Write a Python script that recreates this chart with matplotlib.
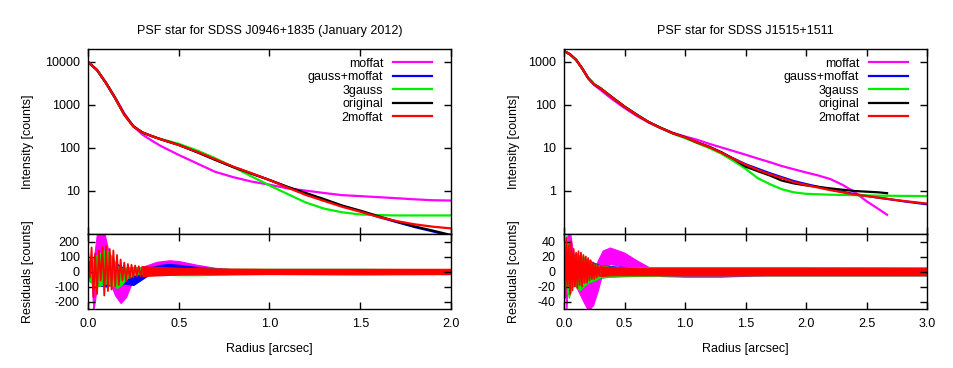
import matplotlib
matplotlib.use('Agg')
import matplotlib.pyplot as plt
import numpy as np

plt.rcParams['font.family'] = ['Liberation Sans', 'DejaVu Sans']
plt.rcParams['font.size'] = 9
plt.rcParams['axes.unicode_minus'] = False

# ---- left panel: SDSS J0946+1835 ----
r_left = [0, 0.05, 0.1, 0.15, 0.2, 0.25, 0.3, 0.35, 0.4, 0.5, 0.6, 0.7, 0.8, 0.9,
          1.0, 1.1, 1.2, 1.3, 1.4, 1.5, 1.6, 1.7, 1.8, 1.9, 2.0]
moffat_l = [10000, 6500, 3300, 1500, 640, 320, 205, 150, 112, 69, 44, 28, 21, 16.6,
            14, 11.5, 10.2, 9.0, 8.0, 7.6, 7.2, 6.8, 6.4, 6.1, 6.0]
gmoffat_l = [10000, 6500, 3200, 1440, 600, 320, 230, 190, 160, 118, 81, 54, 36, 25.5,
             18, 12.3, 8.8, 6.3, 4.5, 3.4, 2.5, 1.9, 1.45, 1.15, 0.9]
gauss3_l = [10000, 6500, 3200, 1440, 600, 320, 225, 190, 162, 125, 88, 58, 36, 22,
            13.5, 8.5, 5.4, 3.9, 3.2, 2.85, 2.75, 2.7, 2.7, 2.7, 2.7]
orig_l = [10000, 6500, 3200, 1440, 600, 320, 230, 190, 160, 118, 80, 53, 36, 25.5,
          18, 12.5, 9.0, 6.5, 4.6, 3.5, 2.6, 1.95, 1.5, 1.2, 0.95]
moffat2_l = [10000, 6500, 3200, 1440, 590, 315, 230, 190, 160, 117, 82, 55, 37, 26,
             18, 12, 8.1, 5.9, 4.3, 3.3, 2.5, 2.0, 1.68, 1.48, 1.35]
yticks_l = [10, 100, 1000, 10000]

# residual envelopes (radius, upper, lower)
res_l = {
    'moffat': ([0.0, 0.02, 0.03, 0.05, 0.07, 0.09, 0.11, 0.13, 0.15, 0.18, 0.21, 0.24, 0.28,
                0.32, 0.38, 0.45, 0.5, 0.6, 0.7, 0.8, 1.0, 2.0],
               [0, 20, 60, 260, 260, 260, 150, 40, -30, -40, -30, 0, 20, 40, 65, 75, 70, 45,
                25, 15, 12, 12],
               [0, -60, -260, -100, 0, 40, -20, -100, -160, -210, -170, -80, -20, 10, 25, 30,
                25, 10, 0, -10, -12, -12]),
    'gauss+moffat': ([0.0, 0.05, 0.1, 0.15, 0.2, 0.25, 0.3, 0.35, 0.4, 0.45, 0.5, 0.6, 0.7,
                      0.8, 1.0, 2.0],
                     [50, 100, 110, 60, 20, 0, 10, 30, 45, 50, 45, 30, 20, 15, 15, 15],
                     [-50, -90, -100, -80, -80, -90, -50, -10, 10, 15, 10, 0, -10, -12, -15, -15]),
    '3gauss': ([0.0, 0.05, 0.1, 0.13, 0.16, 0.19, 0.22, 0.26, 0.3, 0.4, 0.5, 0.6, 0.8, 1.0,
                1.5, 2.0],
               [60, 110, 150, 100, 40, 20, 30, 30, 30, 25, 20, 20, 18, 18, 18, 15],
               [-60, -100, -80, -90, -110, -80, -40, -20, -15, -20, -25, -25, -20, -18, -20, -15]),
    '2moffat': ([0.3, 0.4, 0.5, 0.7, 1.0, 1.5, 2.0],
                [35, 30, 25, 20, 18, 18, 18],
                [-30, -25, -20, -18, -16, -18, -18]),
}
# inner oscillations of the 2moffat residual, r = 0.00 ... 0.30
spike_r_l = [0.00, 0.01, 0.02, 0.03, 0.04, 0.05, 0.06, 0.07, 0.08, 0.09, 0.10, 0.11, 0.12,
             0.13, 0.14, 0.15, 0.16, 0.17, 0.18, 0.19, 0.20, 0.21, 0.22, 0.23, 0.24, 0.25,
             0.26, 0.27, 0.28, 0.29, 0.30]
spike_red_l = [150, -40, 160, -170, 120, -150, 140, -60, 165, -160, 170, -130, 150, -120,
               140, -100, 110, -90, 80, -60, 60, -65, 50, -45, 45, -40, 40, -30, 35, -30, 30]

# ---- right panel: SDSS J1515+1511 ----
r_right = [0, 0.05, 0.1, 0.15, 0.2, 0.25, 0.3, 0.4, 0.5, 0.6, 0.7, 0.8, 0.9, 1.0, 1.1,
           1.2, 1.3, 1.4, 1.5, 1.6, 1.7, 1.8, 1.9, 2.0, 2.2, 2.4, 2.6, 2.8, 3.0]
r_right_mof = [0, 0.05, 0.1, 0.15, 0.2, 0.25, 0.3, 0.4, 0.5, 0.6, 0.7, 0.8, 0.9, 1.0, 1.1,
               1.2, 1.3, 1.4, 1.5, 1.6, 1.7, 1.8, 1.9, 2.0, 2.1, 2.2, 2.3, 2.4, 2.5, 2.6, 2.67]
r_right_orig = [0, 0.05, 0.1, 0.15, 0.2, 0.25, 0.3, 0.4, 0.5, 0.6, 0.7, 0.8, 0.9, 1.0, 1.1,
                1.2, 1.3, 1.4, 1.5, 1.6, 1.7, 1.8, 1.9, 2.0, 2.2, 2.4, 2.6, 2.67]
moffat_r = [1800, 1500, 1120, 710, 420, 290, 225, 135, 85, 56, 39, 29, 22.5, 18.5, 15.5,
            12.5, 10.3, 8.5, 7.0, 5.7, 4.7, 3.8, 3.2, 2.7, 2.3, 1.9, 1.4, 0.95, 0.58, 0.38, 0.28]
gmoffat_r = [1800, 1500, 1120, 710, 420, 300, 245, 148, 91, 59, 40, 29, 22, 17.8, 13.5,
             10.5, 7.8, 5.7, 4.2, 3.3, 2.6, 2.1, 1.7, 1.45, 1.08, 0.85, 0.70, 0.58, 0.49]
gauss3_r = [1800, 1500, 1120, 710, 430, 305, 250, 150, 92, 60, 40, 29, 21.5, 17, 13,
            10, 7.4, 5.0, 3.3, 2.0, 1.45, 1.1, 0.93, 0.86, 0.82, 0.80, 0.78, 0.77, 0.76]
orig_r = [1800, 1500, 1120, 710, 420, 300, 245, 150, 92, 60, 40, 29.5, 22, 17.8, 13.5,
          10.7, 8.0, 5.6, 3.7, 2.9, 2.3, 1.75, 1.5, 1.35, 1.15, 1.0, 0.93, 0.89]
moffat2_r = [1800, 1500, 1120, 710, 420, 300, 245, 148, 91, 59, 40, 29, 22, 17.8, 13.5,
             10.5, 7.8, 5.6, 4.1, 3.1, 2.45, 2.0, 1.6, 1.38, 1.05, 0.83, 0.70, 0.59, 0.51]
yticks_r = [1, 10, 100, 1000]

res_r = {
    'moffat': ([0.0, 0.02, 0.03, 0.05, 0.07, 0.1, 0.13, 0.16, 0.2, 0.24, 0.28, 0.32, 0.38, 0.45,
                0.5, 0.6, 0.7, 0.8, 1.0, 1.3, 1.6, 2.0, 2.5, 2.67],
               [0, 10, 52, 52, 30, 10, 0, -5, -5, 0, 15, 28, 32, 28, 25, 15, 6, 2, 0, 0, 2, 3, 4, 4],
               [0, -52, -20, -10, -10, -20, -30, -40, -52, -45, -25, 0, 10, 8, 5, 0, -3, -6, -7,
                -7, -5, -3, -2, -2]),
    'gauss+moffat': ([0.0, 0.05, 0.1, 0.2, 0.3, 0.5, 1.0, 2.0, 3.0],
                     [20, 25, 20, 15, 8, 6, 5, 5, 5],
                     [-20, -20, -18, -15, -8, -5, -5, -5, -5]),
    '3gauss': ([0.0, 0.02, 0.04, 0.06, 0.08, 0.1, 0.13, 0.16, 0.2, 0.25, 0.3, 0.4, 0.6, 1.0,
                2.0, 3.0],
               [20, 48, 30, 20, 20, 25, 20, 20, 15, 10, 8, 6, 6, 6, 6, 5],
               [-20, -20, -35, -25, -15, -20, -25, -20, -15, -12, -8, -7, -6, -5, -5, -5]),
    '2moffat': ([0.3, 0.4, 0.6, 1.0, 2.0, 3.0],
                [7, 6, 5, 5, 5, 5],
                [-6, -5, -5, -5, -5, -5]),
}
spike_r_r = spike_r_l
spike_red_r = [40, -35, 45, -20, 35, -30, 40, -25, 30, -20, 25, -22, 27, -18, 25, -20, 22,
               -15, 20, -15, 18, -12, 15, -10, 12, -10, 10, -8, 8, -6, 7]

colors = {'moffat': '#ff00ff', 'gauss+moffat': '#0000ff', '3gauss': '#00ee00',
          'original': '#000000', '2moffat': '#ff0000'}


def style(ax):
    ax.tick_params(which='both', direction='in', top=True, right=True, length=5, width=1)
    ax.tick_params(axis='x', pad=6.5)
    ax.tick_params(axis='y', pad=6)
    for s in ax.spines.values():
        s.set_linewidth(1.0)


def panel(left, title, curves, res, spikes, xmax, ylim, yticks, rlim, rticks, ylab_x):
    ax = fig.add_axes([left, 0.3641, 0.3805, 0.5027])
    axr = fig.add_axes([left, 0.1603, 0.3805, 0.2038], sharex=ax)
    for name, rr, vals in curves:
        ax.plot(rr, vals, color=colors[name], lw=1.6, label=name)
    ax.set_yscale('log')
    ax.set_ylim(*ylim)
    ax.set_yticks(yticks)
    ax.yaxis.set_major_formatter(matplotlib.ticker.FormatStrFormatter('%g'))
    ax.minorticks_off()
    ax.set_xlim(0, xmax)
    ax.set_title(title, fontsize=9, pad=11)
    ax.set_ylabel('Intensity [counts]')
    ax.yaxis.set_label_coords(ylab_x, 0.5)
    ax.legend(loc='upper right', bbox_to_anchor=(0.972, 1.0), frameon=False,
              markerfirst=False, handlelength=3.1, handletextpad=0.8, labelspacing=0.12,
              borderaxespad=0.3, fontsize=9)
    style(ax)
    ax.tick_params(labelbottom=False)
    for name in ['moffat', 'gauss+moffat', '3gauss', '2moffat']:
        rr, up, lo = res[name]
        axr.fill_between(rr, lo, up, color=colors[name], lw=0.8, edgecolor=colors[name])
    axr.plot(spikes[0], spikes[1], color=colors['2moffat'], lw=1.3)
    axr.set_ylim(*rlim)
    axr.set_yticks(rticks)
    axr.set_xticks(np.arange(0, xmax + 0.01, 0.5))
    axr.xaxis.set_major_formatter(matplotlib.ticker.FormatStrFormatter('%.1f'))
    axr.set_xlabel('Radius [arcsec]', labelpad=9)
    axr.set_ylabel('Residuals [counts]')
    axr.yaxis.set_label_coords(ylab_x, 0.5)
    style(axr)


fig = plt.figure(figsize=(9.54, 3.68), dpi=100)

panel(0.0922, 'PSF star for SDSS J0946+1835 (January 2012)',
      [('moffat', r_left, moffat_l), ('gauss+moffat', r_left, gmoffat_l),
       ('3gauss', r_left, gauss3_l), ('original', r_left, orig_l),
       ('2moffat', r_left, moffat2_l)],
      res_l, (spike_r_l, spike_red_l), 2.0, (1, 20000), yticks_l, (-250, 250),
      [-200, -100, 0, 100, 200], -0.149)

panel(0.5912, 'PSF star for SDSS J1515+1511',
      [('moffat', r_right_mof, moffat_r), ('gauss+moffat', r_right, gmoffat_r),
       ('3gauss', r_right, gauss3_r), ('original', r_right_orig, orig_r),
       ('2moffat', r_right, moffat2_r)],
      res_r, (spike_r_r, spike_red_r), 3.0, (0.1, 2000), yticks_r, (-50, 50),
      [-40, -20, 0, 20, 40], -0.121)

fig.savefig('out.png', dpi=100)
